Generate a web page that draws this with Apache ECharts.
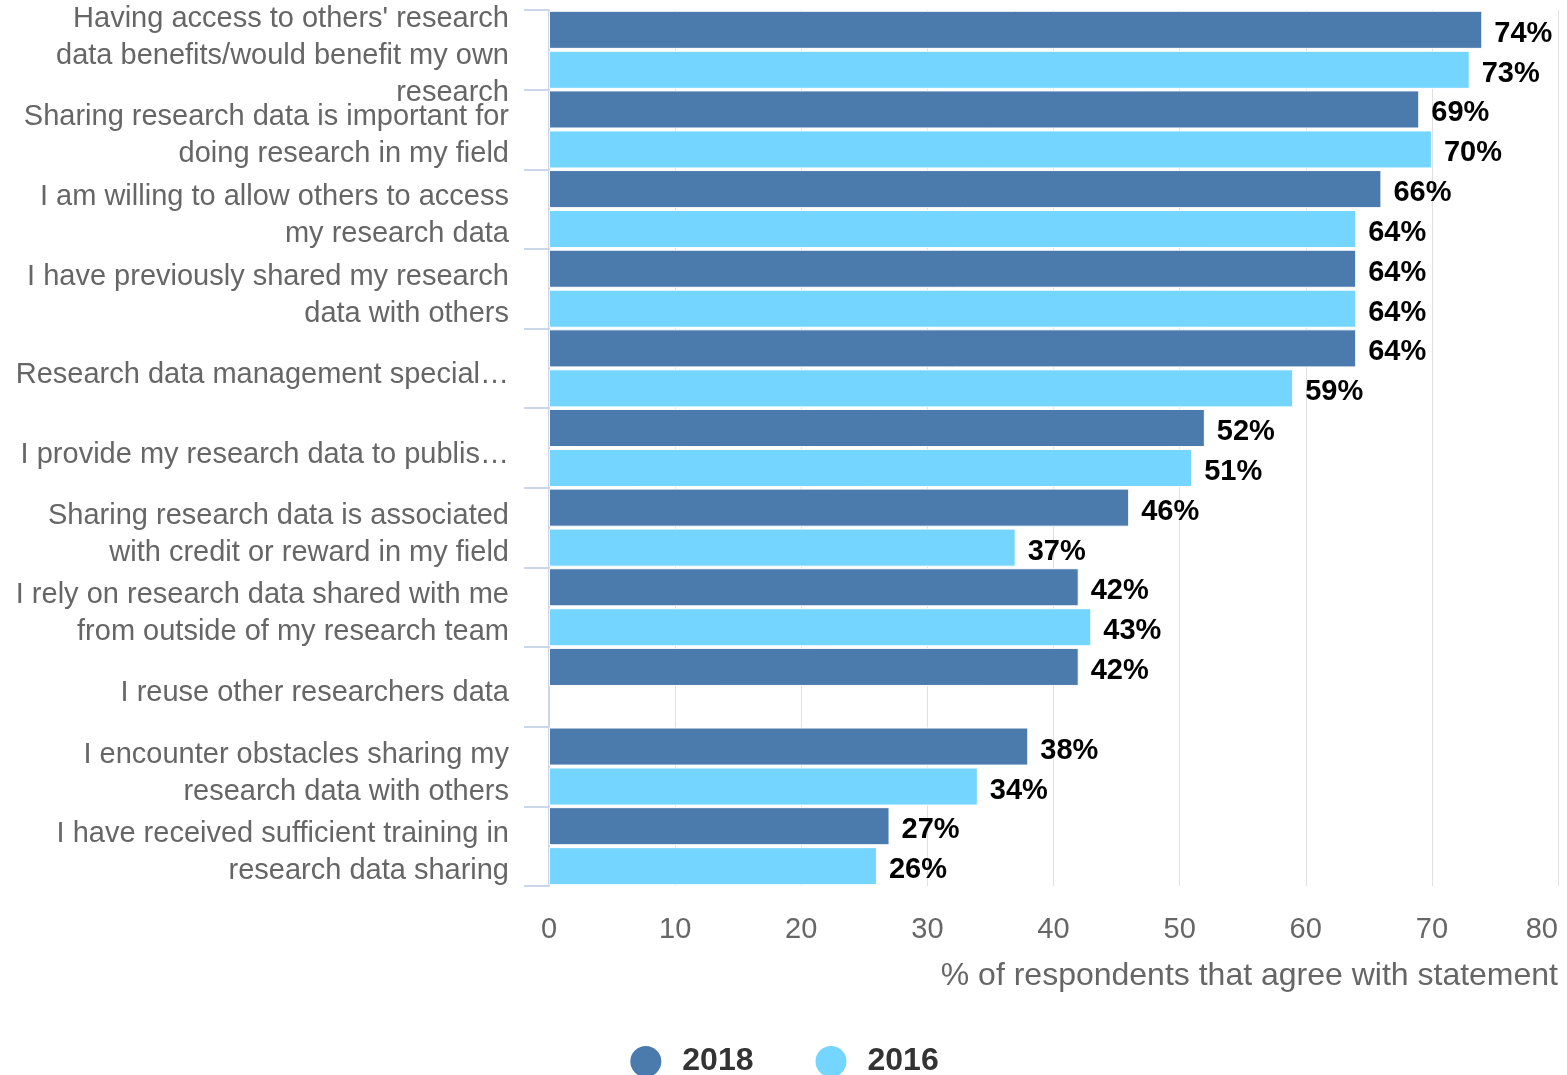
<!DOCTYPE html>
<html>
<head>
<meta charset="utf-8">
<title>Research data sharing</title>
<script src="https://cdn.jsdelivr.net/npm/echarts@6/dist/echarts.min.js"></script>
<style>
  html, body { margin: 0; padding: 0; background: #fff; }
  #J_chartBarBox { width: 1567px; height: 1075px; }
</style>
</head>
<body>
<div id="J_chartBarBox"></div>
<script>
  // statements (top to bottom)
  var categories = [
    "Having access to others' research\ndata benefits/would benefit my own\nresearch",
    'Sharing research data is important for\ndoing research in my field',
    'I am willing to allow others to access\nmy research data',
    'I have previously shared my research\ndata with others',
    'Research data management special\u2026',
    'I provide my research data to publis\u2026',
    'Sharing research data is associated\nwith credit or reward in my field',
    'I rely on research data shared with me\nfrom outside of my research team',
    'I reuse other researchers data',
    'I encounter obstacles sharing my\nresearch data with others',
    'I have received sufficient training in\nresearch data sharing'
  ]
  var values2018 = [74, 69, 66, 64, 64, 52, 46, 42, 42, 38, 27]
  var values2016 = [73, 70, 64, 64, 59, 51, 37, 43, null, 34, 26]
  var xTicks = [0, 10, 20, 30, 40, 50, 60, 70, 80]

  var fontFamily = '"Liberation Sans", Arial, Helvetica, sans-serif'

  var labelStyle = {
    show: true,
    position: 'right',
    distance: 12,
    offset: [0, 4],
    color: '#000',
    fontWeight: 'bold',
    fontSize: 29,
    fontFamily: fontFamily,
    formatter: function (p) { return p.value + '%' }
  }

  var chartBar = echarts.init(document.getElementById('J_chartBarBox'))
  var option = {
    animation: false,
    textStyle: { fontFamily: fontFamily },
    grid: {
      left: 549,
      right: 9,
      top: 10,
      bottom: 189,
      outerBoundsMode: 'none'
    },
    legend: {
      data: ['2018', '2016'],
      left: 'center',
      top: 1039,
      icon: 'circle',
      itemWidth: 33,
      itemHeight: 33,
      itemGap: 60,
      textStyle: {
        fontSize: 32,
        fontWeight: 'bold',
        color: '#333',
        padding: [0, 0, 0, 15],
        fontFamily: fontFamily
      }
    },
    xAxis: {
      type: 'value',
      min: xTicks[0],
      max: xTicks[xTicks.length - 1],
      interval: 10,
      name: '% of respondents that agree with statement',
      nameLocation: 'end',
      nameGap: 0,
      nameTextStyle: {
        align: 'right',
        verticalAlign: 'top',
        padding: [74, 0, 0, 0],
        fontSize: 32,
        color: '#666',
        fontFamily: fontFamily
      },
      axisLine: { show: false },
      axisTick: { show: false },
      axisLabel: {
        fontSize: 29,
        color: '#666',
        margin: 29,
        alignMaxLabel: 'right',
        fontFamily: fontFamily
      },
      splitLine: { lineStyle: { color: '#e0e0e0', width: 1 } }
    },
    yAxis: {
      type: 'category',
      inverse: true,
      data: categories,
      axisLine: { lineStyle: { color: '#ccd6eb', width: 2 } },
      axisTick: { show: true, length: 25, lineStyle: { color: '#ccd6eb', width: 2 } },
      axisLabel: {
        interval: 0,
        hideOverlap: false,
        margin: 40,
        // a thin empty first line pushes the text a little lower, like the original
        formatter: function (v) {
          return '{s| }\n' + v.split('\n').map(function (l) { return '{t|' + l + '}' }).join('\n')
        },
        rich: {
          s: { fontSize: 2, lineHeight: 13 },
          t: { fontSize: 29, color: '#666', lineHeight: 37, fontFamily: fontFamily }
        }
      },
      splitLine: { show: false }
    },
    series: [
      {
        name: '2018',
        type: 'bar',
        data: values2018,
        barCategoryGap: '2%',
        barGap: '5%',
        itemStyle: { color: '#4b7aad', borderColor: '#fff', borderWidth: 1 },
        label: labelStyle
      },
      {
        name: '2016',
        type: 'bar',
        data: values2016,
        itemStyle: { color: '#74d5ff', borderColor: '#fff', borderWidth: 1 },
        label: labelStyle
      }
    ]
  }
  chartBar.setOption(option)

  window.addEventListener('resize', () => {
    chartBar.resize()
  })
</script>
</body>
</html>
